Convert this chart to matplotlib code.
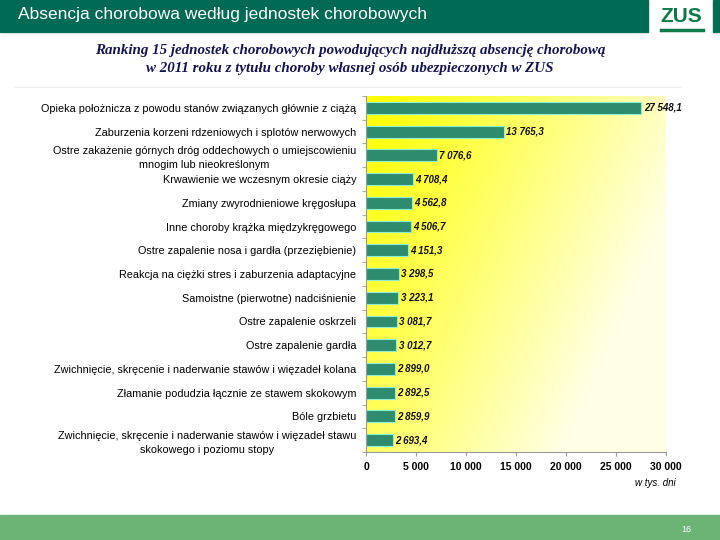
import numpy as np
import matplotlib
matplotlib.use('Agg')
import matplotlib.pyplot as plt
from matplotlib.patches import Rectangle

# dane
categories = [
    'Opieka położnicza z powodu stanów związanych głównie z ciążą',
    'Zaburzenia korzeni rdzeniowych i splotów nerwowych',
    'Ostre zakażenie górnych dróg oddechowych o umiejscowieniu\nmnogim lub nieokreślonym',
    'Krwawienie we wczesnym okresie ciąży',
    'Zmiany zwyrodnieniowe kręgosłupa',
    'Inne choroby krążka międzykręgowego',
    'Ostre zapalenie nosa i gardła (przeziębienie)',
    'Reakcja na ciężki stres i zaburzenia adaptacyjne',
    'Samoistne (pierwotne) nadciśnienie',
    'Ostre zapalenie oskrzeli',
    'Ostre zapalenie gardła',
    'Zwichnięcie, skręcenie i naderwanie stawów i więzadeł kolana',
    'Złamanie podudzia łącznie ze stawem skokowym',
    'Bóle grzbietu',
    'Zwichnięcie, skręcenie i naderwanie stawów i więzadeł stawu\nskokowego i poziomu stopy',
]
values = [27548.1, 13765.3, 7076.6, 4708.4, 4562.8, 4506.7, 4151.3, 3298.5,
          3223.1, 3081.7, 3012.7, 2899.0, 2892.5, 2859.9, 2693.4]
value_labels = ['27 548,1', '13 765,3', '7 076,6', '4 708,4', '4 562,8', '4 506,7',
                '4 151,3', '3 298,5', '3 223,1', '3 081,7', '3 012,7', '2 899,0',
                '2 892,5', '2 859,9', '2 693,4']
x_ticks = [0, 5000, 10000, 15000, 20000, 25000, 30000]
x_ticklabels = ['0', '5 000', '10 000', '15 000', '20 000', '25 000', '30 000']

plt.rcParams['font.family'] = ['Liberation Sans', 'DejaVu Sans']

fig = plt.figure(figsize=(7.2, 5.4), dpi=100)

# naglowek
fig.patches.append(Rectangle((0, 1 - 32 / 540), 648 / 720, 32 / 540, transform=fig.transFigure,
                             color='#006A55', zorder=0))
fig.patches.append(Rectangle((713 / 720, 1 - 32 / 540), 7 / 720, 32 / 540, transform=fig.transFigure,
                             color='#006A55', zorder=0))
fig.text(18 / 720, 1 - 15 / 540, 'Absencja chorobowa według jednostek chorobowych',
         color='white', fontsize=12.5, va='center', ha='left')
fig.text(681 / 720, 1 - 17 / 540, 'ZUS', color='#0E7A4A', fontsize=15, fontweight='bold',
         ha='center', va='center', fontstretch='condensed')
fig.add_artist(plt.Line2D([661 / 720, 703 / 720], [1 - 30 / 540, 1 - 30 / 540],
                          transform=fig.transFigure, color='#0E7A4A', lw=2.5))

# stopka
fig.patches.append(Rectangle((0, 0), 1, 25 / 540, transform=fig.transFigure,
                             color='#6BB475', zorder=0))
fig.text(686 / 720, 11 / 540, '16', color='white', fontsize=6.5, ha='center', va='center')

# podtytul
fig.text(350 / 720, 1 - 59.5 / 540,
         'Ranking 15 jednostek chorobowych powodujących najdłuższą absencję chorobową\n'
         'w 2011 roku z tytułu choroby własnej osób ubezpieczonych w ZUS',
         family='Liberation Serif', style='italic', fontweight='bold', fontsize=10.8,
         color='#141450', ha='center', va='center', linespacing=1.5)
fig.add_artist(plt.Line2D([15 / 720, 680 / 720], [1 - 87 / 540, 1 - 87 / 540],
                          transform=fig.transFigure, color='#EBEBEB', lw=0.8))

ax = fig.add_axes([366 / 720, 1 - 452 / 540, 300 / 720, 356 / 540])

# tlo z gradientem
u = np.linspace(0, 1, 300)
v = np.linspace(0, 1, 300)
U, V = np.meshgrid(u, v)
s = np.clip(1 - (0.85 * U + 0.45 * V), 0, 1)
img = np.dstack([np.ones_like(U), np.ones_like(U), 0.9 * (1 - s) ** 1.1])
ax.imshow(img, extent=[0, 1, 0, 1], transform=ax.transAxes, aspect='auto', zorder=0)

y = np.arange(len(categories))
ax.barh(y, values, height=0.5, color='#2E8B6E', edgecolor='#8EF0D0', linewidth=0.8, zorder=2)
for yi, val, lab in zip(y, values, value_labels):
    ax.text(val + 250, yi, lab, fontsize=7, style='italic', fontweight='bold',
            va='center', ha='left', color='#111111', zorder=3)

ax.set_xlim(0, 30000)
ax.set_ylim(len(categories) - 0.5, -0.5)
ax.set_xticks(x_ticks)
ax.set_xticklabels(x_ticklabels, fontsize=7.5, fontweight='bold')
ax.set_yticks(y)
ax.set_yticklabels(categories, fontsize=7.8)
for lbl in ax.get_yticklabels():
    lbl.set_multialignment('center')
    lbl.set_linespacing(1.45)
ax.set_yticks(np.arange(len(categories) + 1) - 0.5, minor=True)
ax.tick_params(axis='y', which='major', length=0, pad=7)
ax.tick_params(axis='y', which='minor', length=3, color='#999999', direction='out')
ax.tick_params(axis='x', length=3, color='#999999', pad=4)
for side in ['top', 'right']:
    ax.spines[side].set_visible(False)
for side in ['left', 'bottom']:
    ax.spines[side].set_color('#999999')
    ax.spines[side].set_linewidth(0.8)

fig.text(655 / 720, 1 - 483 / 540, 'w tys. dni', fontsize=7, style='italic',
         ha='center', va='center')

fig.savefig('out.png', dpi=100)
